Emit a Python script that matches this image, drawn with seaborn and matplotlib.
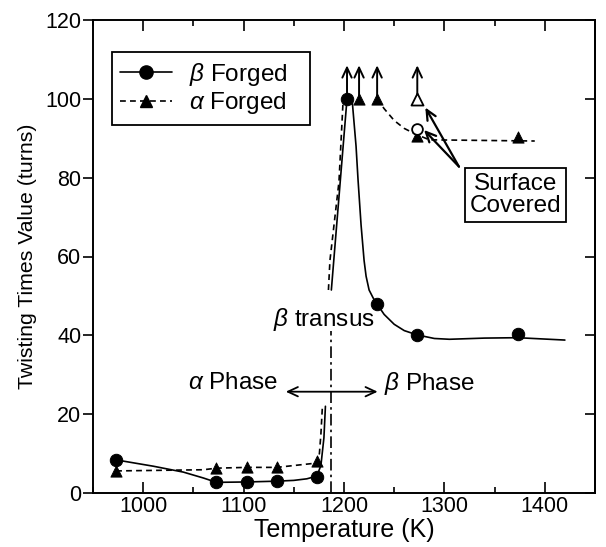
import matplotlib
matplotlib.use("Agg")
import matplotlib.pyplot as plt
import seaborn as sns
from matplotlib.ticker import MultipleLocator
from matplotlib.lines import Line2D

# ---------------- data ----------------
# measured points
beta_T = [973, 1073, 1103, 1133, 1173, 1203, 1233, 1273, 1373]
beta_turns = [8.4, 2.7, 2.9, 3.0, 4.0, 100, 48.0, 40.2, 40.3]
alpha_T = [973, 1073, 1103, 1133, 1173, 1215, 1233, 1273, 1373]
alpha_turns = [5.7, 6.3, 6.5, 6.5, 8.0, 100, 100, 90.6, 90.4]
# "surface covered" specimens (open markers)
covered_beta_T = [1273]
covered_beta_turns = [92.3]
covered_alpha_T = [1273]
covered_alpha_turns = [100]
# specimens that did not break (arrow upward)
unbroken_T = [1203, 1215, 1233, 1273]
unbroken_turns = [100, 100, 100, 100]
unbroken_top = 108.5

# hand-drawn guide curves (vertices)
beta_low_T = [973, 1010, 1040, 1060, 1073, 1103, 1133, 1150, 1163, 1173, 1177, 1180, 1181.5]
beta_low_turns = [8.4, 6.8, 5.3, 3.8, 2.7, 2.8, 3.0, 3.2, 3.6, 4.3, 7.0, 14.0, 22.0]
beta_rise_T = [1187.4, 1203]
beta_rise_turns = [51.5, 100]
beta_fall_T = [1208, 1212, 1214, 1217, 1220, 1222, 1225, 1229, 1233, 1240, 1250,
               1260, 1273, 1290, 1305, 1340, 1373, 1420]
beta_fall_turns = [100, 88, 79.4, 68, 59, 55, 51.5, 49.5, 47.9, 45.3, 42.8,
                   41.2, 40.1, 39.2, 39.0, 39.3, 39.4, 38.8]
alpha_low_T = [973, 1060, 1073, 1103, 1133, 1173, 1175.5, 1177, 1178.5]
alpha_low_turns = [5.6, 5.9, 6.3, 6.5, 6.5, 7.6, 10.0, 15.0, 22.0]
alpha_rise_T = [1184.5, 1186, 1195, 1199]
alpha_rise_turns = [51.5, 59, 79, 99]
alpha_fall_T = [1233, 1240, 1250, 1260, 1270, 1285, 1390]
alpha_fall_turns = [100, 97.5, 94.5, 92.5, 91.2, 89.6, 89.3]
transus_T = [1187, 1187]
transus_turns = [0, 41]

# ---------------- styling ----------------
sns.set_theme(style="ticks")
plt.rcParams["font.family"] = ["Liberation Sans", "DejaVu Sans"]
plt.rcParams["mathtext.fontset"] = "custom"
plt.rcParams["mathtext.it"] = "Liberation Sans:italic"
plt.rcParams["mathtext.rm"] = "Liberation Sans"
for k in ["text.color", "axes.labelcolor", "xtick.color", "ytick.color", "axes.edgecolor"]:
    plt.rcParams[k] = "black"
plt.rcParams["axes.linewidth"] = 1.4

FS_TICK = 15.5
FS_TXT = 17.5
fig = plt.figure(figsize=(6.06, 5.47), dpi=100)
ax = fig.add_axes([93 / 606, 1 - 493 / 547, (595 - 93) / 606, (493 - 20) / 547])

LW = 1.2
dash = (0, (3.5, 2.5))

def curve(x, y, ls):
    sns.lineplot(x=x, y=y, ax=ax, color="black", linewidth=LW, linestyle=ls,
                 sort=False, estimator=None)

curve(beta_low_T, beta_low_turns, "-")
curve(beta_rise_T, beta_rise_turns, "-")
curve(beta_fall_T, beta_fall_turns, "-")
curve(alpha_low_T, alpha_low_turns, dash)
curve(alpha_rise_T, alpha_rise_turns, dash)
curve(alpha_fall_T, alpha_fall_turns, dash)
curve(transus_T, transus_turns, (0, (7, 2.5, 1.5, 2.5)))

sns.scatterplot(x=beta_T, y=beta_turns, ax=ax, marker="o", s=80, color="black",
                edgecolor="black", zorder=5)
sns.scatterplot(x=alpha_T, y=alpha_turns, ax=ax, marker="^", s=65, color="black",
                edgecolor="black", zorder=5)
sns.scatterplot(x=covered_beta_T, y=covered_beta_turns, ax=ax, marker="o", s=60,
                facecolor="white", edgecolor="black", linewidth=1.3, zorder=5)
sns.scatterplot(x=covered_alpha_T, y=covered_alpha_turns, ax=ax, marker="^", s=75,
                facecolor="white", edgecolor="black", linewidth=1.3, zorder=5)

for t, v in zip(unbroken_T, unbroken_turns):
    ax.annotate("", xy=(t, unbroken_top), xytext=(t, v),
                arrowprops=dict(arrowstyle="->,head_length=0.6,head_width=0.28",
                                color="black", lw=1.4, shrinkA=0, shrinkB=0))

# legend
handles = [
    Line2D([0], [0], color="black", lw=LW, ls="-", marker="o", markersize=9.5),
    Line2D([0], [0], color="black", lw=LW, ls=dash, marker="^", markersize=8.5),
]
leg_w = (310 - 111.7) / 502
leg_top = (493 - 52.3) / 473
leg_h = (123.3 - 52.3) / 473
leg = ax.legend(handles, [r"$\mathit{\beta}$ Forged", r"$\mathit{\alpha}$ Forged"],
                loc="upper left", bbox_to_anchor=(0.037, leg_top - leg_h, leg_w, leg_h),
                mode="expand", borderaxespad=0,
                fontsize=FS_TXT, frameon=True, fancybox=False, edgecolor="black",
                handlelength=2.15, handletextpad=0.7, labelspacing=0.1,
                borderpad=0.35, markerfirst=True)
leg.get_frame().set_linewidth(1.3)
leg.get_frame().set_alpha(1)

# annotations
ax.text(1179.5, 43.9, r"$\mathit{\beta}$ transus", ha="center", va="center", fontsize=FS_TXT)
ax.text(1090, 27.8, r"$\mathit{\alpha}$ Phase", ha="center", va="center", fontsize=FS_TXT)
ax.text(1240, 27.8, r"$\mathit{\beta}$ Phase", ha="left", va="center", fontsize=FS_TXT)
ax.annotate("", xy=(1142, 25.7), xytext=(1233.5, 25.7),
            arrowprops=dict(arrowstyle="<->,head_length=0.6,head_width=0.28",
                            color="black", lw=1.3, shrinkA=0, shrinkB=0))
ax.text(1371, 75.6, "Surface\nCovered", ha="center", va="center", fontsize=FS_TXT,
        linespacing=1.05,
        bbox=dict(boxstyle="square,pad=0.2", fc="white", ec="black", lw=1.3))
for tx, ty in [(1281, 97.8), (1279.7, 92.1)]:
    ax.annotate("", xy=(tx, ty), xytext=(1314.5, 82.8),
                arrowprops=dict(arrowstyle="->,head_length=0.6,head_width=0.28",
                                color="black", lw=1.6, shrinkA=0, shrinkB=0))

# axes
ax.set_xlim(950, 1450)
ax.set_ylim(0, 120)
ax.xaxis.set_major_locator(MultipleLocator(100))
ax.xaxis.set_minor_locator(MultipleLocator(50))
ax.yaxis.set_major_locator(MultipleLocator(20))
ax.tick_params(axis="x", which="both", direction="in", top=True, bottom=True,
               labelsize=FS_TICK, pad=2, width=1.2)
ax.tick_params(axis="x", which="major", length=8)
ax.tick_params(axis="x", which="minor", length=4)
ax.tick_params(axis="y", which="major", direction="out", left=True, right=False,
               labelsize=FS_TICK, pad=1.5, width=1.2, length=7)
sec = ax.secondary_yaxis("right")
sec.yaxis.set_major_locator(MultipleLocator(20))
sec.tick_params(axis="y", direction="in", length=7, width=1.2, labelright=False)
for s in ax.spines.values():
    s.set_linewidth(1.4)
sec.spines["right"].set_linewidth(1.4)

ax.set_xlabel("Temperature (K)", fontsize=FS_TXT + 0.5, labelpad=1)
ax.set_ylabel("Twisting Times Value (turns)", fontsize=15.3, labelpad=6)

fig.savefig("out.png", dpi=100)
